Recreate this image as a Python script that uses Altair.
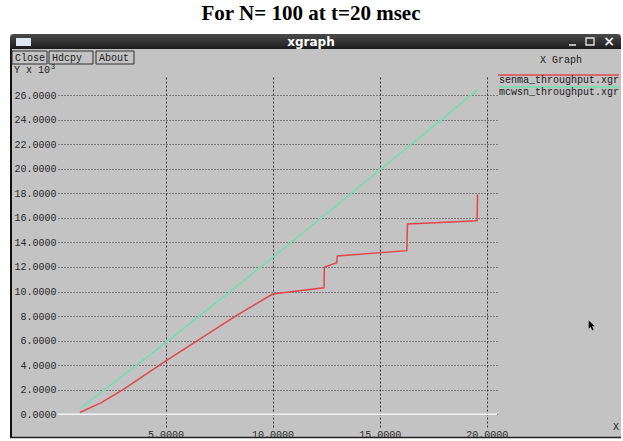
import altair as alt
import pandas as pd

# throughput traces (x: time, y: throughput x 10^3)
senma_x = [1.0, 2.0, 3.0, 5.0, 8.27, 10.0, 12.4, 12.42, 13.0, 13.02, 16.27, 16.3, 19.55, 19.57]
senma_y = [0.15, 0.95, 2.0, 4.33, 8.0, 9.8, 10.3, 12.0, 12.35, 12.9, 13.33, 15.5, 15.76, 17.9]
mcwsn_x = [1.0, 5.0, 8.5, 12.0, 15.0, 17.9, 19.57]
mcwsn_y = [0.47, 5.82, 10.67, 15.6, 19.9, 24.0, 26.45]

series_names = ["senma_throughput.xgr", "mcwsn_throughput.xgr"]
series_colors = ["#e2474b", "#6fe0b0"]
x_ticks = [5, 10, 15, 20]
y_ticks = list(range(0, 28, 2))

W, H = 623, 441
PL, PT, PW, PH = 58, 77, 439, 350   # plot area inside the window
BODY = "#c3c3c3"
MONO = "Liberation Mono"


def px(v):
    return v - PL


def py(v):
    return v - PT


rows = []
for i, (a, b) in enumerate(zip(senma_x, senma_y)):
    rows.append({"series": series_names[0], "x": a, "y": b, "i": i})
for i, (a, b) in enumerate(zip(mcwsn_x, mcwsn_y)):
    rows.append({"series": series_names[1], "x": a, "y": b, "i": i})
df = pd.DataFrame(rows)

one = pd.DataFrame({"k": [0]})

x_scale = alt.Scale(domain=[-0.02, 20.48], nice=False, zero=False)
y_scale = alt.Scale(domain=[-1.03, 27.47], nice=False, zero=False)

x_axis = alt.Axis(
    values=x_ticks, format=".4f", title=None, ticks=False, domain=False,
    grid=True, gridColor="#333333", gridDash=[2, 2], gridWidth=1,
    labelFont=MONO, labelFontSize=10, labelColor="#2a2a2a",
    labelPadding=2, labelBaseline="top", labelOverlap=False)
y_axis = alt.Axis(
    values=y_ticks, format=".4f", title=None, ticks=False, domain=False,
    grid=True, gridColor="#333333", gridDash=[1, 2], gridWidth=1,
    labelFont=MONO, labelFontSize=10, labelColor="#2a2a2a",
    labelPadding=2, labelOverlap=False)


def box(x1, y1, x2, y2, **kw):
    return alt.Chart(one).mark_rect(**kw).encode(
        x=alt.value(px(x1)), x2=alt.value(px(x2)),
        y=alt.value(py(y1)), y2=alt.value(py(y2)))


def label(text, x, y, **kw):
    return alt.Chart(one).mark_text(text=text, **kw).encode(
        x=alt.value(px(x)), y=alt.value(py(y)))


def hline(x1, x2, y, color, width=1.0):
    return alt.Chart(one).mark_rule(color=color, strokeWidth=width).encode(
        x=alt.value(px(x1)), x2=alt.value(px(x2)), y=alt.value(py(y)))


# grid + tick labels
grid = alt.Chart(df).mark_point(opacity=0).encode(
    x=alt.X("x:Q", scale=x_scale, axis=x_axis),
    y=alt.Y("y:Q", scale=y_scale, axis=y_axis),
)

zero_line = alt.Chart(one).mark_rule(color="#f4f4f4", strokeWidth=1.5).encode(
    y=alt.datum(0, scale=y_scale, axis=y_axis))

lines = alt.Chart(df).mark_line(strokeWidth=1.5, interpolate="linear").encode(
    x=alt.X("x:Q", scale=x_scale, axis=x_axis),
    y=alt.Y("y:Q", scale=y_scale, axis=y_axis),
    order="i:Q",
    color=alt.Color("series:N", scale=alt.Scale(domain=series_names, range=series_colors), legend=None),
)

# page outside the window
outside = [
    box(0, 0, W, 34, fill="white"),
    box(0, 34, 10, H, fill="white"),
    box(621, 34, W, H, fill="white"),
    box(0, 438, W, H, fill="white"),
]

title = label("For N= 100 at t=20 msec", 311, 14, font="Liberation Serif",
              fontSize=21, fontWeight="bold", color="black", align="center", baseline="middle")

titlebar = box(10, 34, 621, 49, cornerRadiusTopLeft=4, cornerRadiusTopRight=4,
               fill=alt.LinearGradient(gradient="linear", x1=0, y1=0, x2=0, y2=1,
                                       stops=[alt.GradientStop(color="#4a4a4a", offset=0),
                                              alt.GradientStop(color="#1c1c1c", offset=1)]))
win_icon = box(16, 38, 31, 46, fill="#dfe7f2")
win_name = label("xgraph", 311, 42, font="DejaVu Sans", fontSize=12, fontWeight="bold",
                 color="white", align="center", baseline="middle")
ctl_min = hline(569, 576, 45, "#e8e8e8", 1.5)
ctl_max = box(586, 38, 594, 45, fill=None, stroke="#e8e8e8", strokeWidth=1.3)
ctl_close = label("×", 609, 42, font="DejaVu Sans", fontSize=14, fontWeight="bold",
                  color="#e8e8e8", align="center", baseline="middle")

left_edge = alt.Chart(one).mark_rule(color="#101010", strokeWidth=2).encode(
    x=alt.value(px(11)), y=alt.value(py(49)), y2=alt.value(py(438)))
bottom_edge = hline(10, 621, 437.5, "#202020", 1.5)

buttons = []
for name, a, b in [("Close", 12, 47), ("Hdcpy", 49, 93), ("About", 96, 134)]:
    buttons.append(box(a, 51, b, 64, fill=None, stroke="#303030", strokeWidth=1))
    buttons.append(label(name, a + 3, 58, font=MONO, fontSize=10, color="#202020",
                         align="left", baseline="middle"))

yunit = label("Y x 10", 14, 70, font=MONO, fontSize=10, color="#202020",
              align="left", baseline="middle")
yunit_exp = label("3", 51, 66.5, font=MONO, fontSize=7, color="#202020",
                  align="left", baseline="middle")
graph_name = label("X Graph", 540, 60, font=MONO, fontSize=10, color="#202020",
                   align="left", baseline="middle")
xunit = label("X", 613, 427, font=MONO, fontSize=10, color="#202020",
              align="left", baseline="middle")

legend = [
    hline(498, 619, 75, series_colors[0], 1.5),
    label(series_names[0], 499, 80, font=MONO, fontSize=10, color="#202020",
          align="left", baseline="middle"),
    hline(498, 619, 87, series_colors[1], 1.5),
    label(series_names[1], 499, 92, font=MONO, fontSize=10, color="#202020",
          align="left", baseline="middle"),
]

cursor = alt.Chart(one).mark_point(
    shape="M-0.6,-1 L-0.6,0.5 L-0.25,0.15 L0.05,0.8 L0.3,0.7 L0,0.05 L0.5,0.05 Z",
    filled=True, color="black", opacity=1, size=120).encode(
    x=alt.value(px(592)), y=alt.value(py(326)))

chart = alt.layer(
    grid, zero_line, lines,
    *outside, title, titlebar, win_icon, win_name, ctl_min, ctl_max, ctl_close,
    left_edge, bottom_edge, *buttons, yunit, yunit_exp, graph_name, xunit,
    *legend, cursor,
).properties(
    width=PW, height=PH,
    padding={"left": PL, "top": PT, "right": W - PL - PW, "bottom": H - PT - PH},
    autosize=alt.AutoSizeParams(type="none"),
    background=BODY,
).configure_view(stroke=None)

chart.save("out.html", embed_options={"renderer": "svg", "actions": False})
